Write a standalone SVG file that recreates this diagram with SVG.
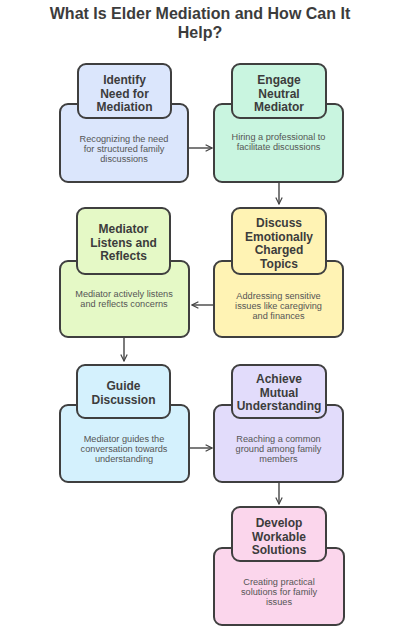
<svg xmlns="http://www.w3.org/2000/svg" width="414" height="631" viewBox="0 0 414 631">
<style>
.bg{fill:#ffffff}
.box{stroke:#3f3f3f;stroke-width:2}
.title{font-family:"Liberation Sans",Arial,sans-serif;font-weight:bold;font-size:16px;fill:#3c3c3c;text-anchor:middle}
.nt{font-family:"Liberation Sans",Arial,sans-serif;font-weight:bold;font-size:12px;fill:#3c3c3c;text-anchor:middle}
.nd{font-family:"Liberation Sans",Arial,sans-serif;font-size:9.2px;fill:#555555;text-anchor:middle}
.conn{stroke:#444444;stroke-width:1.4;fill:none}
.blue{fill:#dbe6fc}.mint{fill:#c9f5e0}.lime{fill:#e5f9c6}.yellow{fill:#fff3b4}.sky{fill:#d4f1fd}.purple{fill:#e2dcfb}.pink{fill:#fbd6ec}
</style>
<defs>
<marker id="arr" viewBox="0 0 10 10" refX="9" refY="5" markerWidth="8" markerHeight="8" markerUnits="userSpaceOnUse" orient="auto">
<path d="M1,1 L9,5 L1,9" fill="none" stroke="#444444" stroke-width="1.5"/>
</marker>
</defs>
<rect class="bg" x="0" y="0" width="414" height="631"/>
<text class="title" x="200" y="19">What Is Elder Mediation and How Can It</text>
<text class="title" x="200" y="38">Help?</text>

<g id="connectors">
<line class="conn" x1="189" y1="148" x2="212" y2="148" marker-end="url(#arr)"/>
<line class="conn" x1="279" y1="182" x2="279" y2="204" marker-end="url(#arr)"/>
<line class="conn" x1="214" y1="305" x2="192" y2="305" marker-end="url(#arr)"/>
<line class="conn" x1="124" y1="337" x2="124" y2="361" marker-end="url(#arr)"/>
<line class="conn" x1="189" y1="448" x2="212" y2="448" marker-end="url(#arr)"/>
<line class="conn" x1="279" y1="482" x2="279" y2="504" marker-end="url(#arr)"/>
</g>

<g id="node-identify">
<rect class="box blue" x="60" y="104" width="128" height="78" rx="8"/>
<rect class="box blue" x="78" y="64" width="93" height="54" rx="8"/>
<text class="nt" x="124.5" y="84">Identify</text>
<text class="nt" x="124.5" y="97.5">Need for</text>
<text class="nt" x="124.5" y="111">Mediation</text>
<text class="nd" x="124" y="142">Recognizing the need</text>
<text class="nd" x="124" y="152">for structured family</text>
<text class="nd" x="124" y="162">discussions</text>
</g>

<g id="node-engage">
<rect class="box mint" x="214" y="104" width="129" height="78" rx="8"/>
<rect class="box mint" x="232" y="64" width="94" height="54" rx="8"/>
<text class="nt" x="279" y="84">Engage</text>
<text class="nt" x="279" y="97.5">Neutral</text>
<text class="nt" x="279" y="111">Mediator</text>
<text class="nd" x="278.5" y="140">Hiring a professional to</text>
<text class="nd" x="278.5" y="150">facilitate discussions</text>
</g>

<g id="node-listens">
<rect class="box lime" x="60" y="261" width="129" height="76" rx="8"/>
<rect class="box lime" x="77" y="208" width="93" height="66" rx="8"/>
<text class="nt" x="123.5" y="233">Mediator</text>
<text class="nt" x="123.5" y="246.5">Listens and</text>
<text class="nt" x="123.5" y="260">Reflects</text>
<text class="nd" x="124" y="297">Mediator actively listens</text>
<text class="nd" x="124" y="307">and reflects concerns</text>
</g>

<g id="node-discuss">
<rect class="box yellow" x="214" y="261" width="129" height="76" rx="8"/>
<rect class="box yellow" x="232" y="208" width="94" height="66" rx="8"/>
<text class="nt" x="279" y="227">Discuss</text>
<text class="nt" x="279" y="240.5">Emotionally</text>
<text class="nt" x="279" y="254">Charged</text>
<text class="nt" x="279" y="267.5">Topics</text>
<text class="nd" x="278.5" y="299">Addressing sensitive</text>
<text class="nd" x="278.5" y="309">issues like caregiving</text>
<text class="nd" x="278.5" y="319">and finances</text>
</g>

<g id="node-guide">
<rect class="box sky" x="60" y="405" width="129" height="77" rx="8"/>
<rect class="box sky" x="77" y="365" width="93" height="53" rx="8"/>
<text class="nt" x="123.5" y="390">Guide</text>
<text class="nt" x="123.5" y="403.5">Discussion</text>
<text class="nd" x="124" y="442">Mediator guides the</text>
<text class="nd" x="124" y="452">conversation towards</text>
<text class="nd" x="124" y="462">understanding</text>
</g>

<g id="node-achieve">
<rect class="box purple" x="214" y="405" width="129" height="77" rx="8"/>
<rect class="box purple" x="232" y="365" width="94" height="53" rx="8"/>
<text class="nt" x="279" y="383">Achieve</text>
<text class="nt" x="279" y="396.5">Mutual</text>
<text class="nt" x="279" y="410">Understanding</text>
<text class="nd" x="278.5" y="442">Reaching a common</text>
<text class="nd" x="278.5" y="452">ground among family</text>
<text class="nd" x="278.5" y="462">members</text>
</g>

<g id="node-develop">
<rect class="box pink" x="214" y="548" width="130" height="77" rx="8"/>
<rect class="box pink" x="232" y="507" width="94" height="54" rx="8"/>
<text class="nt" x="279" y="527">Develop</text>
<text class="nt" x="279" y="540.5">Workable</text>
<text class="nt" x="279" y="554">Solutions</text>
<text class="nd" x="279" y="585">Creating practical</text>
<text class="nd" x="279" y="595">solutions for family</text>
<text class="nd" x="279" y="605">issues</text>
</g>
</svg>
